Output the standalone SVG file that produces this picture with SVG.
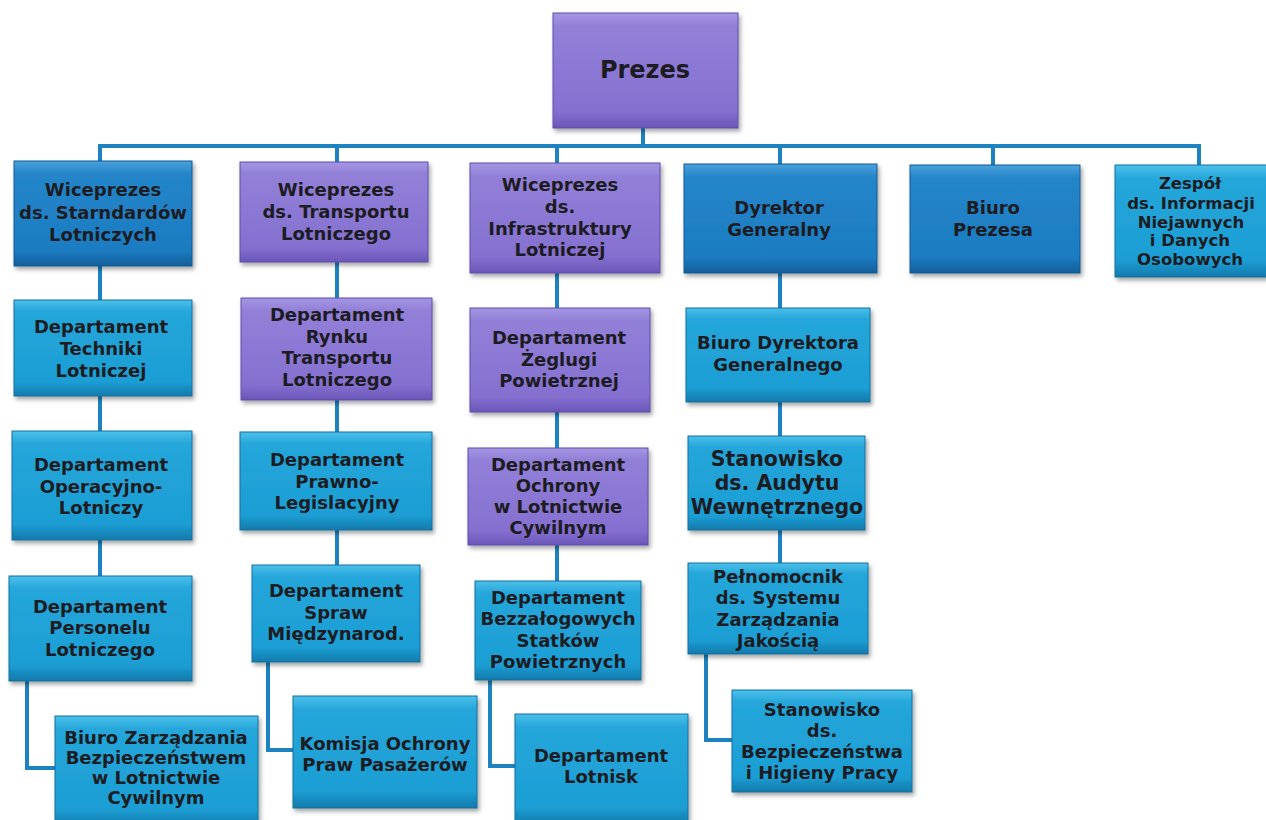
<svg xmlns="http://www.w3.org/2000/svg" width="1266" height="820" viewBox="0 0 1266 820">
<defs>
<linearGradient id="gPurple" x1="0" y1="0" x2="0" y2="1">
<stop offset="0" stop-color="#a596e2"/><stop offset="0.12" stop-color="#9280d8"/><stop offset="0.85" stop-color="#8570d0"/><stop offset="1" stop-color="#6a56b8"/>
</linearGradient>
<linearGradient id="gBlue" x1="0" y1="0" x2="0" y2="1">
<stop offset="0" stop-color="#4aa2dc"/><stop offset="0.12" stop-color="#2585c9"/><stop offset="0.85" stop-color="#1c7cc2"/><stop offset="1" stop-color="#125f9a"/>
</linearGradient>
<linearGradient id="gCyan" x1="0" y1="0" x2="0" y2="1">
<stop offset="0" stop-color="#4cc0ea"/><stop offset="0.12" stop-color="#25a6da"/><stop offset="0.85" stop-color="#1c9ed4"/><stop offset="1" stop-color="#137aab"/>
</linearGradient>
<filter id="sh" x="-10%" y="-10%" width="130%" height="130%">
<feDropShadow dx="2" dy="3" stdDeviation="2" flood-color="#000" flood-opacity="0.35"/>
</filter>
</defs>
<style>
.box{filter:url(#sh);stroke-width:1}
.p{fill:url(#gPurple);stroke:#5e4caa}
.b{fill:url(#gBlue);stroke:#105a92}
.c{fill:url(#gCyan);stroke:#11719e}
text{font-family:"DejaVu Sans","Liberation Sans",sans-serif;font-weight:bold;font-size:18px;fill:#1c1c22;text-anchor:middle}
.conn{fill:none;stroke:#1d82c0;stroke-width:4}
</style>
<rect width="1266" height="820" fill="#ffffff"/>
<g id="connectors" class="conn">
<path d="M643,128 V146"/>
<path d="M100,162 V146 H1199 V165"/>
<path d="M337,146 V162"/>
<path d="M557,146 V163"/>
<path d="M780,146 V164"/>
<path d="M993,146 V165"/>
<path d="M100,266 V300"/>
<path d="M100,396 V431"/>
<path d="M100,540 V576"/>
<path d="M27,681 V768 H55"/>
<path d="M337,262 V298"/>
<path d="M337,400 V432"/>
<path d="M337,530 V565"/>
<path d="M268,662 V750 H293"/>
<path d="M557,273 V308"/>
<path d="M557,412 V448"/>
<path d="M557,545 V581"/>
<path d="M490,680 V766 H515"/>
<path d="M780,273 V308"/>
<path d="M780,402 V436"/>
<path d="M780,530 V563"/>
<path d="M706,654 V740 H732"/>
</g>
<g id="prezes"><rect class="box p" x="553" y="13" width="185" height="115"/>
<text x="645" y="78" style="font-size:24px">Prezes</text></g>
<g id="w1"><rect class="box b" x="14" y="161" width="178" height="105"/>
<text x="103" y="196">Wiceprezes</text><text x="103" y="219">ds. Starndardów</text><text x="103" y="241">Lotniczych</text></g>
<g id="w2"><rect class="box p" x="240" y="162" width="188" height="100"/>
<text x="336" y="196">Wiceprezes</text><text x="336" y="218">ds. Transportu</text><text x="336" y="240">Lotniczego</text></g>
<g id="w3"><rect class="box p" x="470" y="163" width="190" height="110"/>
<text x="560" y="191">Wiceprezes</text><text x="560" y="213">ds.</text><text x="560" y="235">Infrastruktury</text><text x="560" y="256">Lotniczej</text></g>
<g id="dg"><rect class="box b" x="684" y="164" width="193" height="109"/>
<text x="779" y="214">Dyrektor</text><text x="779" y="236">Generalny</text></g>
<g id="bp"><rect class="box b" x="910" y="165" width="170" height="108"/>
<text x="993" y="214">Biuro</text><text x="993" y="236">Prezesa</text></g>
<g id="zespol"><rect class="box c" x="1115" y="165" width="155" height="112"/>
<g style="font-size:16.5px"><text x="1190" y="189" style="font-size:16.5px">Zespół</text><text x="1191" y="209" style="font-size:16.5px">ds. Informacji</text><text x="1191" y="228" style="font-size:16.5px">Niejawnych</text><text x="1190" y="246" style="font-size:16.5px">i Danych</text><text x="1190" y="265" style="font-size:16.5px">Osobowych</text></g></g>
<g id="techniki"><rect class="box c" x="14" y="300" width="178" height="96"/>
<text x="101" y="333">Departament</text><text x="101" y="355">Techniki</text><text x="101" y="377">Lotniczej</text></g>
<g id="operacyjno"><rect class="box c" x="12" y="431" width="180" height="109"/>
<text x="101" y="471">Departament</text><text x="101" y="493">Operacyjno-</text><text x="101" y="514">Lotniczy</text></g>
<g id="personelu"><rect class="box c" x="9" y="576" width="183" height="105"/>
<text x="100" y="613">Departament</text><text x="100" y="634">Personelu</text><text x="100" y="656">Lotniczego</text></g>
<g id="biuro-zarzadzania"><rect class="box c" x="55" y="716" width="203" height="110"/>
<text x="156" y="744">Biuro Zarządzania</text><text x="156" y="764">Bezpieczeństwem</text><text x="156" y="784">w Lotnictwie</text><text x="156" y="804">Cywilnym</text></g>
<g id="rynku"><rect class="box p" x="241" y="298" width="191" height="102"/>
<text x="337" y="321">Departament</text><text x="337" y="343">Rynku</text><text x="337" y="364">Transportu</text><text x="337" y="386">Lotniczego</text></g>
<g id="prawno"><rect class="box c" x="240" y="432" width="192" height="98"/>
<text x="337" y="466">Departament</text><text x="337" y="488">Prawno-</text><text x="337" y="509">Legislacyjny</text></g>
<g id="spraw"><rect class="box c" x="252" y="565" width="168" height="97"/>
<text x="336" y="597">Departament</text><text x="336" y="619">Spraw</text><text x="336" y="640">Międzynarod.</text></g>
<g id="komisja"><rect class="box c" x="293" y="696" width="184" height="112"/>
<text x="385" y="750">Komisja Ochrony</text><text x="385" y="771">Praw Pasażerów</text></g>
<g id="zeglugi"><rect class="box p" x="470" y="308" width="180" height="104"/>
<text x="559" y="344">Departament</text><text x="559" y="366">Żeglugi</text><text x="559" y="387">Powietrznej</text></g>
<g id="ochrony"><rect class="box p" x="468" y="448" width="180" height="97"/>
<text x="558" y="471">Departament</text><text x="558" y="492">Ochrony</text><text x="558" y="513">w Lotnictwie</text><text x="558" y="534">Cywilnym</text></g>
<g id="bezzalogowych"><rect class="box c" x="475" y="581" width="166" height="99"/>
<text x="558" y="604">Departament</text><text x="558" y="625">Bezzałogowych</text><text x="558" y="647">Statków</text><text x="558" y="668">Powietrznych</text></g>
<g id="lotnisk"><rect class="box c" x="515" y="714" width="173" height="110"/>
<text x="601" y="762">Departament</text><text x="601" y="783">Lotnisk</text></g>
<g id="biuro-dg"><rect class="box c" x="686" y="308" width="184" height="94"/>
<text x="778" y="349">Biuro Dyrektora</text><text x="778" y="371">Generalnego</text></g>
<g id="audyt"><rect class="box c" x="688" y="436" width="177" height="94"/>
<text x="777" y="466" style="font-size:20.5px">Stanowisko</text><text x="777" y="490" style="font-size:20.5px">ds. Audytu</text><text x="777" y="514" style="font-size:20.5px">Wewnętrznego</text></g>
<g id="pelnomocnik"><rect class="box c" x="688" y="563" width="180" height="91"/>
<text x="778" y="583">Pełnomocnik</text><text x="778" y="604">ds. Systemu</text><text x="778" y="626">Zarządzania</text><text x="778" y="647">Jakością</text></g>
<g id="bhp"><rect class="box c" x="732" y="690" width="180" height="102"/>
<text x="822" y="716">Stanowisko</text><text x="822" y="737">ds.</text><text x="822" y="758">Bezpieczeństwa</text><text x="822" y="779">i Higieny Pracy</text></g>
</svg>
